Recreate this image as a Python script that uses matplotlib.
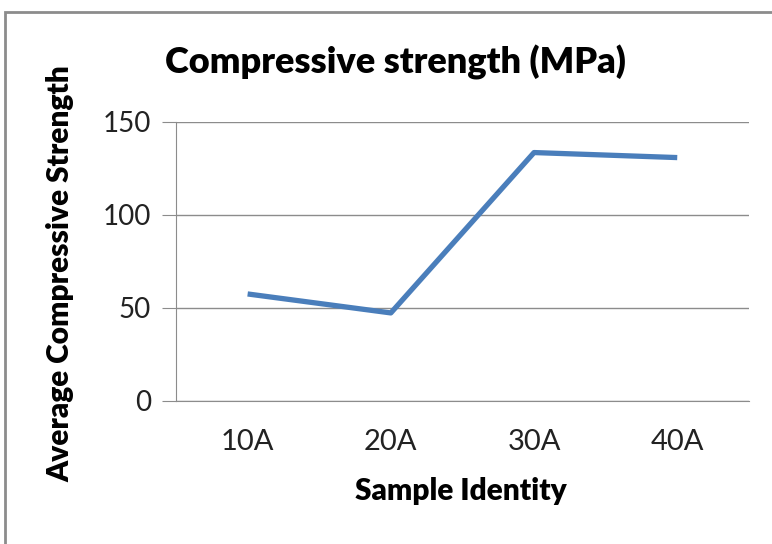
import matplotlib
matplotlib.use("Agg")
import matplotlib.pyplot as plt
from matplotlib.patches import Rectangle

# chart data
samples = ['10A', '20A', '30A', '40A']
strength = [57.5, 47.3, 133.5, 130.8]
y_ticks = [0, 50, 100, 150]

plt.rcParams['font.family'] = ['Lato', 'DejaVu Sans']

fig = plt.figure(figsize=(7.72, 5.44), dpi=100)
ax = fig.add_axes([0.228, 0.263, 0.742, 0.513])

# outer chart frame (only top and left edges are visible in the crop)
fig.patches.append(Rectangle((5 / 772, -0.1), 2.0, 1.1 - 12 / 544, transform=fig.transFigure,
                             fill=False, edgecolor='#8c8c8c', linewidth=2))

x = list(range(len(samples)))
ax.plot(x, strength, color='#4a7ebb', linewidth=3.8, solid_capstyle='butt')

ax.set_xlim(-0.5, len(samples) - 0.5)
ax.set_ylim(0, 150)
ax.set_yticks(y_ticks)
ax.set_xticks(x)
ax.set_xticklabels(samples)
ax.grid(axis='y', color='#8c8c8c', linewidth=1)
ax.set_axisbelow(True)

for side in ['top', 'right']:
    ax.spines[side].set_visible(False)
ax.spines['left'].set_color('#8c8c8c')
ax.spines['bottom'].set_color('#8c8c8c')
ax.tick_params(axis='y', length=10, color='#8c8c8c', labelsize=20, pad=8, labelcolor='#222222')
ax.tick_params(axis='x', length=0, labelsize=21, pad=20, labelcolor='#222222')

# title and axis labels placed like the Excel layout
fig.text(395 / 772, 1 - 62 / 544, 'Compressive strength (MPa)', fontsize=26,
         fontweight='heavy', ha='center', va='center')
fig.text(461 / 772, 1 - 491 / 544, 'Sample Identity', fontsize=21.5,
         fontweight='heavy', ha='center', va='center')
fig.text(60 / 772, 1 - 274 / 544, 'Average Compressive Strength', fontsize=21.5,
         fontweight='heavy', ha='center', va='center', rotation=90)

fig.savefig('out.png', dpi=100)
